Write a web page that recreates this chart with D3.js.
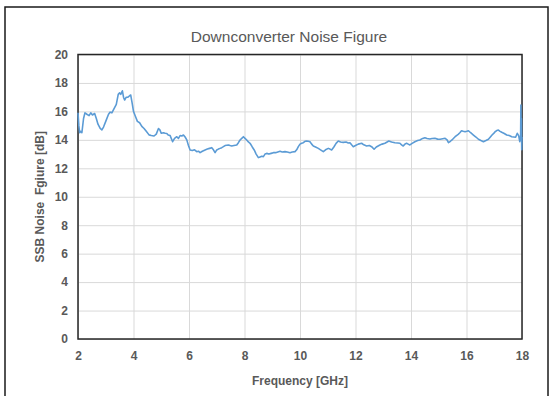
<!DOCTYPE html>
<html>
<head>
<meta charset="utf-8">
<script src="https://cdn.jsdelivr.net/npm/d3@7"></script>
<style>
  html, body { margin: 0; padding: 0; background: #fff; }
  svg { display: block; }
</style>
</head>
<body>
<svg id="chart" width="550" height="396"></svg>
<script>
// Measured single-sideband noise figure of the downconverter
const freqGHz = [
  2.00, 2.03, 2.06, 2.10, 2.14, 2.20, 2.25, 2.32, 2.40, 2.46, 2.52, 2.60, 2.66, 2.72, 2.80, 2.86, 2.92,
  3.00, 3.10, 3.16, 3.22, 3.30, 3.38, 3.45, 3.50, 3.54, 3.60, 3.64, 3.68, 3.74, 3.80, 3.86, 3.90, 3.95,
  4.00, 4.06, 4.14, 4.22, 4.30, 4.38, 4.46, 4.56, 4.64, 4.74, 4.82, 4.90, 4.95,
  5.00, 5.08, 5.14, 5.20, 5.25, 5.32, 5.41, 5.48, 5.56, 5.62, 5.68, 5.74, 5.80, 5.86, 5.92, 5.98,
  6.04, 6.12, 6.20, 6.28, 6.34, 6.40, 6.48, 6.58, 6.66, 6.74, 6.82, 6.88, 6.94,
  7.00, 7.06, 7.12, 7.18, 7.24, 7.30, 7.36, 7.42, 7.48, 7.54, 7.62, 7.72, 7.78, 7.84, 7.90, 7.96,
  8.02, 8.08, 8.14, 8.20, 8.28, 8.35, 8.42, 8.50, 8.56, 8.62, 8.68, 8.74, 8.80, 8.88, 8.96,
  9.04, 9.12, 9.20, 9.28, 9.36, 9.46, 9.54, 9.64, 9.72, 9.82, 9.88, 9.94,
  10.00, 10.06, 10.12, 10.18, 10.24, 10.30, 10.36, 10.42, 10.48, 10.56, 10.66, 10.74, 10.84, 10.92,
  11.02, 11.08, 11.14, 11.22, 11.30, 11.38, 11.46, 11.56, 11.66, 11.74, 11.80, 11.86, 11.92,
  12.00, 12.10, 12.22, 12.30, 12.40, 12.50, 12.58, 12.67, 12.75, 12.88, 12.96,
  13.06, 13.14, 13.20, 13.30, 13.42, 13.52, 13.60, 13.66, 13.72, 13.78, 13.84, 13.90, 13.96,
  14.04, 14.14, 14.24, 14.32, 14.42, 14.50, 14.58, 14.68, 14.76, 14.86, 14.96,
  15.05, 15.14, 15.23, 15.30, 15.35, 15.42, 15.50, 15.59, 15.64, 15.70, 15.76, 15.82, 15.88, 15.95,
  16.01, 16.07, 16.15, 16.25, 16.34, 16.43, 16.52, 16.61, 16.70, 16.79, 16.86, 16.92, 16.98,
  17.03, 17.09, 17.15, 17.21, 17.27, 17.36, 17.45, 17.54, 17.63, 17.70, 17.77, 17.83, 17.88, 17.92,
  17.95, 17.96, 17.97, 17.98, 17.99, 18.00
];
const noiseFigureDb = [
  15.9, 15.0, 14.5, 14.6, 14.5, 15.5, 15.9, 15.8, 15.7, 15.9, 15.75, 15.85, 15.5, 15.1, 14.8, 14.7, 14.9,
  15.3, 15.8, 15.95, 15.9, 16.2, 16.5, 17.2, 17.3, 17.2, 17.45, 17.0, 16.8, 17.0, 17.0, 17.1, 17.15, 16.6,
  16.0, 15.7, 15.3, 15.2, 14.95, 14.8, 14.6, 14.35, 14.3, 14.27, 14.4, 14.8, 14.7,
  14.46, 14.5, 14.46, 14.45, 14.34, 14.3, 13.87, 14.1, 14.22, 14.1, 14.3, 14.27, 14.34, 14.2, 14.0, 13.6,
  13.29, 13.25, 13.3, 13.17, 13.2, 13.1, 13.2, 13.29, 13.35, 13.4, 13.45, 13.3, 13.1,
  13.29, 13.35, 13.4, 13.45, 13.52, 13.6, 13.62, 13.64, 13.6, 13.57, 13.6, 13.64, 13.8, 13.99, 14.1, 14.22,
  14.1, 13.99, 13.85, 13.76, 13.5, 13.29, 13.0, 12.75, 12.8, 12.85, 12.82, 13.0, 13.05, 13.0, 13.05,
  13.1, 13.1, 13.15, 13.2, 13.15, 13.17, 13.15, 13.1, 13.15, 13.17, 13.3, 13.52,
  13.7, 13.76, 13.8, 13.9, 13.92, 13.9, 13.87, 13.7, 13.57, 13.5, 13.4, 13.3, 13.17, 13.3,
  13.4, 13.35, 13.29, 13.5, 13.75, 13.92, 13.85, 13.82, 13.85, 13.78, 13.8, 13.65, 13.52,
  13.6, 13.7, 13.76, 13.65, 13.57, 13.6, 13.52, 13.34, 13.5, 13.64, 13.7,
  13.76, 13.85, 13.92, 13.85, 13.8, 13.78, 13.76, 13.65, 13.57, 13.7, 13.76, 13.7, 13.64,
  13.75, 13.87, 13.95, 13.99, 14.1, 14.15, 14.1, 14.06, 14.1, 14.11, 14.05,
  14.04, 14.08, 14.11, 14.0, 13.8, 13.9, 14.04, 14.22, 14.3, 14.39, 14.5, 14.64, 14.6, 14.57,
  14.6, 14.64, 14.5, 14.34, 14.2, 14.04, 13.95, 13.87, 13.95, 14.04, 14.2, 14.34, 14.45,
  14.57, 14.65, 14.69, 14.6, 14.53, 14.45, 14.34, 14.3, 14.22, 14.2, 14.18, 14.46, 14.3, 13.87,
  14.3, 16.45, 14.0, 15.5, 13.3, 14.2
];
const xTicks = [2, 4, 6, 8, 10, 12, 14, 16, 18];
const yTicks = [0, 2, 4, 6, 8, 10, 12, 14, 16, 18, 20];

const chartTitle = "Downconverter Noise Figure";
const xTitle = "Frequency [GHz]";
const yTitle = "SSB Noise  Fgiure [dB]";

const svg = d3.select("#chart");
const plot = { left: 78, right: 522, top: 54.5, bottom: 339 };
const labelColor = "#595959";
const fontFamily = "'Liberation Sans', Arial, sans-serif";

// outer chart-area frame
svg.append("rect")
  .attr("x", 5).attr("y", 7)
  .attr("width", 543).attr("height", 400)
  .attr("fill", "#fff")
  .attr("stroke", "#1a1a1a")
  .attr("stroke-width", 1.5);

const x = d3.scaleLinear().domain([2, 18]).range([plot.left, plot.right]);
const y = d3.scaleLinear().domain([0, 20]).range([plot.bottom, plot.top]);

// grid
svg.append("g")
  .attr("transform", `translate(0,${plot.bottom})`)
  .call(d3.axisBottom(x).tickValues(xTicks).tickSize(-(plot.bottom - plot.top)).tickFormat(""))
  .call(g => g.select(".domain").remove())
  .call(g => g.selectAll("line").attr("stroke", "#d9d9d9").attr("stroke-width", 1));
svg.append("g")
  .attr("transform", `translate(${plot.left},0)`)
  .call(d3.axisLeft(y).tickValues(yTicks).tickSize(-(plot.right - plot.left)).tickFormat(""))
  .call(g => g.select(".domain").remove())
  .call(g => g.selectAll("line").attr("stroke", "#d9d9d9").attr("stroke-width", 1));

// tick labels
const xAxis = svg.append("g")
  .attr("transform", `translate(0,${plot.bottom})`)
  .call(d3.axisBottom(x).tickValues(xTicks).tickSize(0).tickPadding(12).tickFormat(d3.format("d")));
xAxis.select(".domain").remove();
xAxis.selectAll("text")
  .attr("fill", labelColor).attr("font-family", fontFamily)
  .attr("font-size", 12).attr("font-weight", "bold");

const yAxis = svg.append("g")
  .attr("transform", `translate(${plot.left},0)`)
  .call(d3.axisLeft(y).tickValues(yTicks).tickSize(0).tickPadding(10).tickFormat(d3.format("d")));
yAxis.select(".domain").remove();
yAxis.selectAll("text")
  .attr("fill", labelColor).attr("font-family", fontFamily)
  .attr("font-size", 12).attr("font-weight", "bold");

// plot border
svg.append("rect")
  .attr("x", plot.left).attr("y", plot.top)
  .attr("width", plot.right - plot.left).attr("height", plot.bottom - plot.top)
  .attr("fill", "none").attr("stroke", "#262626").attr("stroke-width", 1.5);

// data line
const series = freqGHz.map((f, i) => ({ f, v: noiseFigureDb[i] }));
svg.append("path")
  .datum(series)
  .attr("fill", "none")
  .attr("stroke", "#5b9bd5")
  .attr("stroke-width", 1.6)
  .attr("stroke-linejoin", "round")
  .attr("d", d3.line().x(d => x(d.f)).y(d => y(d.v)));

// titles
svg.append("text")
  .attr("x", 289).attr("y", 42)
  .attr("text-anchor", "middle")
  .attr("fill", labelColor).attr("font-family", fontFamily)
  .attr("font-size", 15.5)
  .text(chartTitle);

svg.append("text")
  .attr("x", 300).attr("y", 385)
  .attr("text-anchor", "middle")
  .attr("fill", labelColor).attr("font-family", fontFamily)
  .attr("font-size", 12).attr("font-weight", "bold")
  .text(xTitle);

svg.append("text")
  .attr("transform", `translate(44,${(plot.top + plot.bottom) / 2}) rotate(-90)`)
  .attr("text-anchor", "middle")
  .attr("fill", labelColor).attr("font-family", fontFamily)
  .attr("font-size", 12).attr("font-weight", "bold")
  .attr("xml:space", "preserve")
  .style("white-space", "pre")
  .text(yTitle);
</script>
</body>
</html>
